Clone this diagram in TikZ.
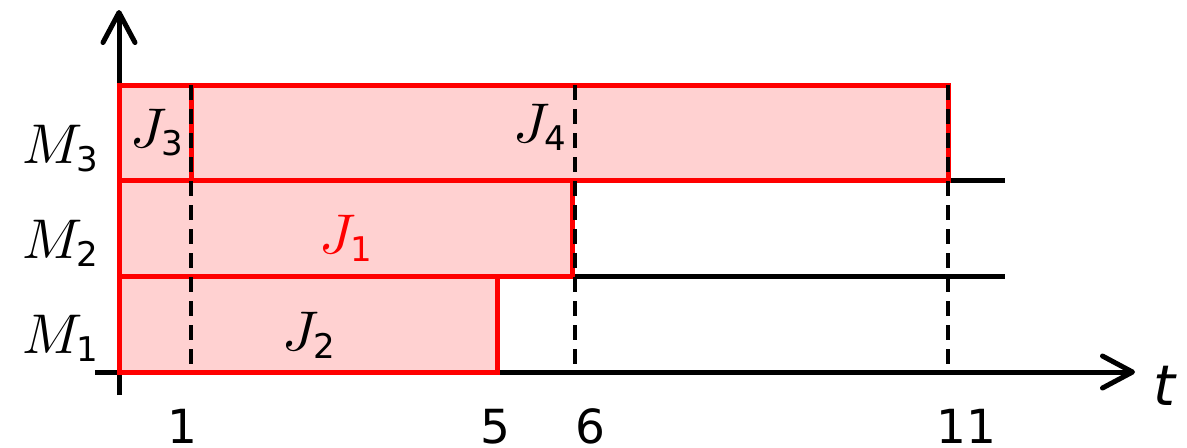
\documentclass[tikz,border=0pt]{standalone}
\usepackage{fontspec}
\newfontfamily\dv{DejaVu Sans}
\DeclareFontShape{OML}{cmm}{m}{it}{<->cmmi10}{}
\DeclareFontShape{OMS}{cmsy}{m}{n}{<->cmsy10}{}
\DeclareFontShape{OMX}{cmex}{m}{n}{<->cmex10}{}
\usetikzlibrary{arrows.meta}
\definecolor{jobfill}{RGB}{255,209,209}
\definecolor{jobred}{RGB}{255,0,0}
\newcommand\subdv[1]{\hbox{\dv\fontsize{17}{18}\selectfont #1}}
\begin{document}
\begin{tikzpicture}[x=0.5pt,y=-0.5pt,
  axisline/.style={line width=2.5pt,black},
  barb/.style={-{Straight Barb[length=15pt,width=16pt,round]}},
  jobline/.style={line width=2.5pt,jobred,line join=miter},
  jobbox/.style={fill=jobfill},
  dline/.style={line width=1.8pt,black,dash pattern=on 7.5pt off 4.5pt},
  lab/.style={inner sep=0pt,font=\fontsize{28}{32}\selectfont},
  tick/.style={inner sep=0pt,anchor=base,font=\dv\fontsize{23.5}{26}\selectfont}]
\useasboundingbox (0,0) rectangle (1187,447);
% coordinates
\coordinate (xs) at (95,372);
\coordinate (xe) at (1135,372);
\coordinate (ys) at (119,395);
\coordinate (ye) at (119,10);
\coordinate (m3a) at (119,180);
\coordinate (m3b) at (1005,180);
\coordinate (m2a) at (119,276);
\coordinate (m2b) at (1005,276);
% fills
\fill[jobfill] (119,85) rectangle (191,180);
\fill[jobfill] (191,85) rectangle (948,180);
\fill[jobfill] (119,180) rectangle (572,276);
\fill[jobfill] (119,276) rectangle (497,372);
% machine lines and axes
\draw[axisline] (m3a) -- (m3b);
\draw[axisline] (m2a) -- (m2b);
\draw[axisline,barb] (xs) -- (xe);
\draw[axisline,barb] (ys) -- (ye);
% job outlines
\draw[jobline] (119,85) rectangle (191,180);
\draw[jobline] (191,85) rectangle (948,180);
\draw[jobline] (119,180) rectangle (572,276);
\draw[jobline] (119,276) rectangle (497,372);
% dashed time marks
\coordinate (d1a) at (191,85);  \coordinate (d1b) at (191,372);
\coordinate (d6a) at (575,85);  \coordinate (d6b) at (575,372);
\coordinate (d11a) at (948,85); \coordinate (d11b) at (948,372);
\draw[dline] (d1a) -- (d1b);
\draw[dline] (d6a) -- (d6b);
\draw[dline] (d11a) -- (d11b);
% machine labels
\node[lab,anchor=base west] (M3) at (22,163) {$M_{\subdv{3}}$};
\node[lab,anchor=base west] (M2) at (22,258) {$M_{\subdv{2}}$};
\node[lab,anchor=base west] (M1) at (22,353) {$M_{\subdv{1}}$};
% job labels
\node[lab,anchor=base west] (J3) at (130,147) {$J_{\subdv{3}}$};
\node[lab,anchor=base west] (J4) at (513,142) {$J_{\subdv{4}}$};
\node[lab,anchor=base west,text=jobred] (J1) at (319,253) {$J_{\subdv{1}}$};
\node[lab,anchor=base west] (J2) at (282,350) {$J_{\subdv{2}}$};
% tick labels
\node[tick] (t1) at (182,443) {1};
\node[tick] (t5) at (495,443) {5};
\node[tick] (t6) at (590,443) {6};
\node[tick] (t11) at (966,443) {11};
\node[inner sep=0pt,anchor=base west,font=\dv\itshape\fontsize{28}{32}\selectfont] (t) at (1153,405) {t};
\end{tikzpicture}
\end{document}
